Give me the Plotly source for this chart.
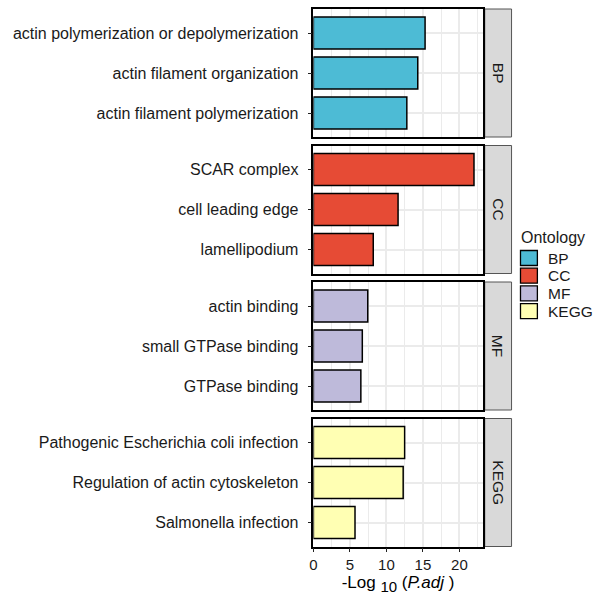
import plotly.graph_objects as go
from plotly.subplots import make_subplots

# ---- data ----
ontologies = ["BP", "CC", "MF", "KEGG"]
bp_terms = ["actin polymerization or depolymerization", "actin filament organization", "actin filament polymerization"]
bp_values = [15.3, 14.3, 12.8]
cc_terms = ["SCAR complex", "cell leading edge", "lamellipodium"]
cc_values = [22.0, 11.6, 8.2]
mf_terms = ["actin binding", "small GTPase binding", "GTPase binding"]
mf_values = [7.45, 6.7, 6.5]
kegg_terms = ["Pathogenic Escherichia coli infection", "Regulation of actin cytoskeleton", "Salmonella infection"]
kegg_values = [12.5, 12.3, 5.7]
colors = ["#4DBBD5", "#E64B35", "#BEBADA", "#FFFFB3"]
x_ticks = [0, 5, 10, 15, 20]

groups = [(bp_terms, bp_values), (cc_terms, cc_values), (mf_terms, mf_values), (kegg_terms, kegg_values)]

W, H = 593, 610
FONT = "Liberation Sans, Arial, sans-serif"
TXT = "#1A1A1A"

fig = make_subplots(rows=4, cols=1, shared_xaxes=True, vertical_spacing=0.0)

px_left, px_right = 311.5, 482.0
strip_l, strip_r = 484.0, 511.0
top0, ph, step = 9.0, 128.0, 136.5

for i, (name, (terms, vals)) in enumerate(zip(ontologies, groups)):
    fig.add_trace(go.Bar(
        x=vals, y=terms, orientation="h", name=name,
        marker=dict(color=colors[i], line=dict(color="black", width=1.5)),
        width=0.8, showlegend=False,
    ), row=i + 1, col=1)

    top = top0 + i * step
    bot = top + ph
    yk = "yaxis" if i == 0 else f"yaxis{i+1}"
    xk = "xaxis" if i == 0 else f"xaxis{i+1}"
    fig.layout[yk].update(
        domain=[1 - bot / H, 1 - top / H],
        categoryorder="array", categoryarray=list(reversed(terms)),
        range=[-0.6, 2.6],
        showgrid=True, gridcolor="#EBEBEB", gridwidth=1.5,
        ticks="outside", ticklen=4, tickcolor="#222222", tickwidth=1.3,
        ticklabelstandoff=6,
        tickfont=dict(family=FONT, size=16, color=TXT),
        showline=True, mirror=True, linecolor="black", linewidth=1.5,
        zeroline=False,
    )
    fig.layout[xk].update(
        domain=[px_left / W, px_right / W],
        range=[0, 23.2],
        tickvals=x_ticks,
        showgrid=True, gridcolor="#EBEBEB", gridwidth=1.5,
        minor=dict(dtick=2.5, tick0=0, showgrid=True, gridcolor="#EBEBEB", gridwidth=0.8),
        showline=True, mirror=True, linecolor="black", linewidth=1.5,
        zeroline=False,
        showticklabels=(i == 3),
        ticks="outside" if i == 3 else "", ticklen=4, tickcolor="#222222", tickwidth=1.3,
        tickfont=dict(family=FONT, size=15, color=TXT),
    )
    # facet strip
    fig.add_shape(type="rect", xref="paper", yref="paper",
                  x0=strip_l / W, x1=strip_r / W, y0=1 - bot / H, y1=1 - top / H,
                  fillcolor="#D9D9D9", line=dict(color="#555555", width=1), layer="below")
    fig.add_annotation(x=(strip_l + strip_r) / 2 / W, y=1 - (top + bot) / 2 / H, xref="paper", yref="paper",
                       xanchor="center", yanchor="middle",
                       text=name, textangle=90, showarrow=False,
                       font=dict(family=FONT, size=15.5, color=TXT))

    # legend key (drawn manually to match ggplot key size)
    ky = 258.0 + i * 17.7
    fig.add_shape(type="rect", xref="paper", yref="paper",
                  x0=520 / W, x1=537 / W, y0=1 - (ky + 7.5) / H, y1=1 - (ky - 7.5) / H,
                  fillcolor=colors[i], line=dict(color="black", width=1.3))
    fig.add_annotation(x=546 / W, y=1 - ky / H, xref="paper", yref="paper",
                       xanchor="left", yanchor="middle", text=name, showarrow=False,
                       font=dict(family=FONT, size=15.5, color=TXT))

fig.add_annotation(x=518 / W, y=1 - 237 / H, xref="paper", yref="paper",
                   xanchor="left", yanchor="middle", text="Ontology", showarrow=False,
                   font=dict(family=FONT, size=16, color=TXT))

fig.layout["xaxis4"].title = dict(
    text='-Log <sub><span style="font-size:15px">10</span></sub> (<i>P.adj</i> )',
    font=dict(family=FONT, size=17, color="black"), standoff=4)

fig.update_layout(
    width=W, height=H, autosize=False,
    margin=dict(l=0, r=0, t=0, b=0),
    paper_bgcolor="white", plot_bgcolor="white",
    showlegend=False,
)

fig.write_html("out.html", config={"responsive": False})
